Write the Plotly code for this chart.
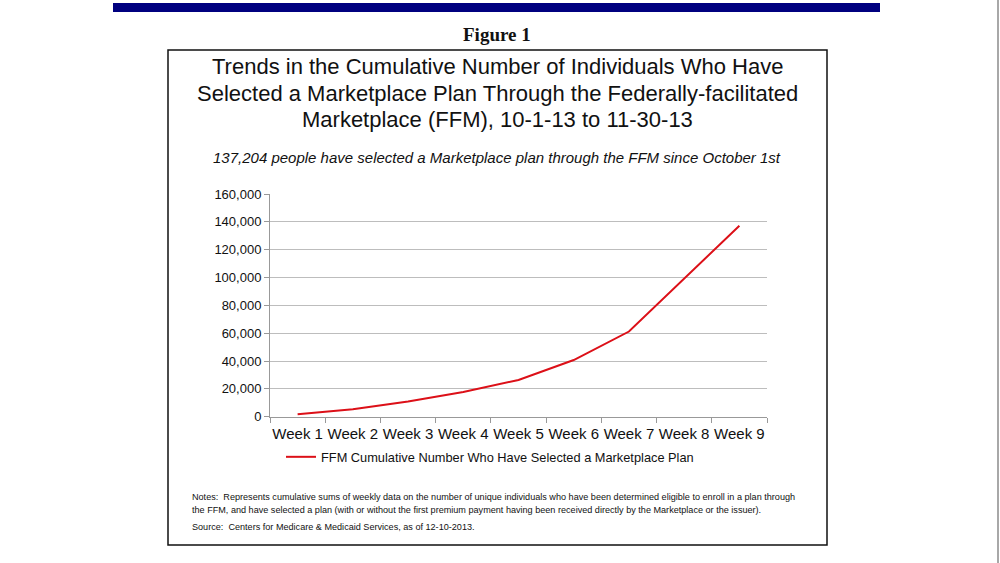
import plotly.graph_objects as go

weeks = ["Week 1", "Week 2", "Week 3", "Week 4", "Week 5", "Week 6", "Week 7", "Week 8", "Week 9"]
cumulative = [1700, 5300, 11000, 17800, 26400, 40700, 61200, 99000, 137204]
y_ticks = [0, 20000, 40000, 60000, 80000, 100000, 120000, 140000, 160000]
series_name = "FFM Cumulative Number Who Have Selected a Marketplace Plan"

W, H = 1000, 563
def px(x):
    return x / W
def py(y):
    return 1 - y / H

fig = go.Figure()
fig.add_trace(go.Scatter(
    x=weeks, y=cumulative, mode="lines", name=series_name,
    line=dict(color="#dc1018", width=2),
))

font = "Liberation Sans, Arial, sans-serif"
fig.update_layout(
    width=W, height=H, autosize=False,
    margin=dict(l=0, r=0, t=0, b=0, pad=0, autoexpand=False),
    paper_bgcolor="white", plot_bgcolor="white",
    showlegend=True,
    legend=dict(orientation="h", x=px(490), y=py(457), xanchor="center", yanchor="middle",
                font=dict(family=font, size=12.8, color="#111"), itemwidth=30,
                bgcolor="rgba(0,0,0,0)"),
    xaxis=dict(domain=[px(270), px(767)], type="category", tickangle=0, automargin=False,
               range=[-0.5, len(weeks) - 0.5],
               showgrid=False, showline=True, linecolor="#999", linewidth=1,
               ticks="outside", tickson="boundaries", ticklen=5, tickcolor="#999",
               ticklabelstandoff=3,
               tickfont=dict(family=font, size=15, color="#111")),
    yaxis=dict(domain=[py(416.7), py(194)], range=[0, 160000], automargin=False,
               tickvals=y_ticks, tickformat=",d",
               showgrid=True, gridcolor="#bdbdbd", gridwidth=1,
               showline=True, linecolor="#999", linewidth=1,
               ticks="outside", ticklen=5, tickcolor="#999", zeroline=False,
               tickfont=dict(family=font, size=13, color="#111")),
)

shapes = [
    dict(type="rect", xref="paper", yref="paper", x0=px(113), x1=px(880), y0=py(12), y1=py(3),
         fillcolor="#00007f", line=dict(width=0)),
    dict(type="rect", xref="paper", yref="paper", x0=px(168), x1=px(827), y0=py(545), y1=py(50),
         line=dict(color="#111", width=1.5), fillcolor="rgba(0,0,0,0)"),
    dict(type="line", xref="paper", yref="paper", x0=px(998), x1=px(998), y0=0, y1=1,
         line=dict(color="#a8a8a8", width=2)),
]
fig.update_layout(shapes=shapes)

ann = [
    dict(text="<b>Figure 1</b>", x=px(497), y=py(34), font=dict(family="Liberation Serif, Times New Roman, serif", size=19, color="#111")),
    dict(text="Trends in the Cumulative Number of Individuals Who Have", x=px(497), y=py(67), font=dict(family=font, size=22, color="#111")),
    dict(text="Selected a Marketplace Plan Through the Federally-facilitated", x=px(497), y=py(93), font=dict(family=font, size=22, color="#111")),
    dict(text="Marketplace (FFM), 10-1-13 to 11-30-13", x=px(497), y=py(119), font=dict(family=font, size=22, color="#111")),
    dict(text="<i>137,204 people have selected a Marketplace plan through the FFM since October 1st</i>", x=px(497), y=py(158), font=dict(family=font, size=15, color="#111")),
]
for a in ann:
    a.update(xref="paper", yref="paper", showarrow=False, xanchor="center", yanchor="middle")

notes = [
    ("Notes:  Represents cumulative sums of weekly data on the number of unique individuals who have been determined eligible to enroll in a plan through", 497),
    ("the FFM, and have selected a plan (with or without the first premium payment having been received directly by the Marketplace or the issuer).", 510),
    ("Source:  Centers for Medicare &amp; Medicaid Services, as of 12-10-2013.", 527),
]
for t, yy in notes:
    ann.append(dict(text=t, x=px(190), y=py(yy), xref="paper", yref="paper", showarrow=False,
                    xanchor="left", yanchor="middle", font=dict(family=font, size=9.1, color="#111")))
fig.update_layout(annotations=ann)

fig.write_html("out.html",
               post_script="document.body.style.margin='0';document.body.style.overflow='hidden';")
